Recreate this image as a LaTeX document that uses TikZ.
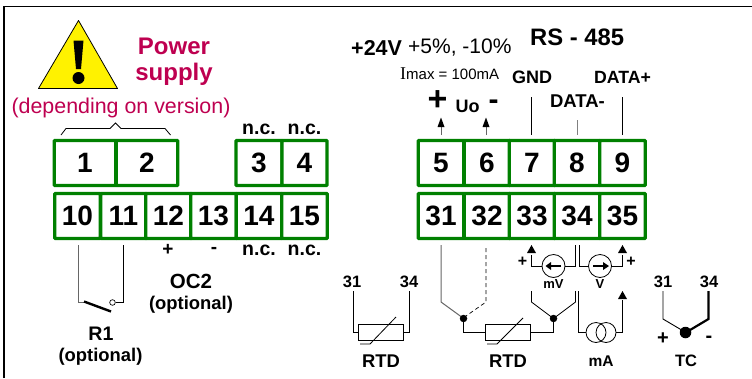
\documentclass[tikz,border=0pt]{standalone}
\usepackage{fontspec}
\setmainfont{Liberation Sans}
\newfontfamily\serifx{Liberation Serif}
\definecolor{grn}{RGB}{0,128,0}
\definecolor{crim}{RGB}{190,0,80}
\begin{document}
\begin{tikzpicture}[x=1pt,y=-1pt,
 cell/.style={draw=grn,line width=3.2pt,rounded corners=0.6pt,fill=white,minimum height=45pt,inner sep=0pt,font=\fontsize{28}{28}\selectfont\bfseries},
 lbl/.style={inner sep=0pt,font=\fontsize{#1}{#1}\selectfont\bfseries},
 lbl/.default=16,
 reg/.style={inner sep=0pt,font=\fontsize{#1}{#1}\selectfont},
 wire/.style={draw=black,line width=0.8pt},
 gwire/.style={draw=black!60,line width=1pt},
 dotb/.style={circle,fill=black,inner sep=0pt,minimum size=#1}]
\useasboundingbox (0,0) rectangle (752,378);
\draw[line width=1.8pt] (4,378) -- (4,6.5) -- (752,6.5);
% warning
\draw[fill=yellow,line width=0.8pt,line join=round] (78.5,20.5) -- (117.5,88.5) -- (38.5,88.5) -- cycle;
\fill (73.5,40.5) -- (83.5,40.5) -- (81,69) -- (76,69) -- cycle;
\node[dotb=12pt] (wdot) at (78.5,78) {};
\node[lbl=24,text=crim] (ps1) at (174,46) {Power};
\node[lbl=24,text=crim] (ps2) at (174,74.5) {supply};
\node[reg=21.4,text=crim] (ps3) at (121,107.5) {(depending on version)};
% brace
\draw[line width=0.8pt] (61,135) -- (66,128.5) -- (110,128.5) -- (115.5,123) -- (121,128.5) -- (165,128.5) -- (170.5,135);
% top terminals
\foreach \n/\x/\w in {1/85/61.5,2/147/61.5}{\node[cell,minimum width=\w pt] (t\n) at (\x,163) {\n};}
\foreach \n/\x/\w in {3/259/46,4/304.5/45}{\node[cell,minimum width=\w pt] (t\n) at (\x,163) {\n};}
\foreach \n/\x in {5/441,6/487,7/532,8/577}{\node[cell,minimum width=45.5pt] (t\n) at (\x,163) {\n};}
\node[cell,minimum width=45.5pt] (t9) at (622.5,163) {9};
\node[lbl=19.5] (nc3) at (259,129) {n.c.};
\node[lbl=19.5] (nc4) at (304.5,129) {n.c.};
% bottom terminals
\foreach \n/\x in {10/77.5,11/123.5,12/168.5,13/213.5,14/259,15/304.5}{\node[cell,minimum width=45.5pt] (t\n) at (\x,216) {\n};}
\foreach \n/\x in {31/441,32/487,33/532,34/577,35/622.5}{\node[cell,minimum width=45.5pt] (t\n) at (\x,216) {\n};}
\node[lbl=19] (p12) at (168,250) {+};
\node[lbl=19] (m13) at (214,250) {-};
\node[lbl=19.5] (nc14) at (259,250) {n.c.};
\node[lbl=19.5] (nc15) at (304.5,250) {n.c.};
\node[lbl=20.5] (oc) at (191,281) {OC2};
\node[lbl=18.4] (ocopt) at (191,305) {(optional)};
\node[lbl=19.6] (r1) at (101,334) {R1};
\node[lbl=18.4] (r1opt) at (100.5,357) {(optional)};
% R1
\draw[gwire] (78,245) -- (78,302) -- (85,302);
\draw[line width=2.4pt] (84,301.5) -- (111,311.5);
\draw[wire] (123.5,245) -- (123.5,302.5) -- (115.5,302.5);
\draw[line width=0.7pt,fill=white] (112.5,302.5) circle (2.8pt);
% right top text
\node[lbl=21.5,anchor=west] (v24) at (351,48) {+24V};
\node[reg=21,anchor=west] (pct) at (408,48) {+5\%, -10\%};
\node[lbl=23.8,anchor=west] (rs) at (530,37) {RS - 485};
\node[anchor=west,inner sep=0pt,font=\fontsize{15}{15}\selectfont] (imax) at (400,74) {{\serifx\fontsize{18}{18}\selectfont I}max = 100mA};
\node[lbl=18] (gnd) at (532,77) {GND};
\node[lbl=18.5] (dm) at (577.5,101) {DATA-};
\node[lbl=17.7] (dp) at (622.5,77) {DATA+};
\node[lbl=34] (plus) at (437.5,101) {+};
\node[lbl=18] (uo) at (467.5,106) {Uo};
\node[lbl=30] (minus) at (493.5,105) {-};
% arrows
\draw[gwire] (441,135) -- (441,124);
\fill (441,117.5) -- (444.5,127) -- (437.5,127) -- cycle;
\draw[gwire] (486,135) -- (486,124);
\fill (486,117.5) -- (489.5,127) -- (482.5,127) -- cycle;
\draw[wire] (531.5,97) -- (531.5,135);
\draw[line width=1pt,draw=black!50] (577,120) -- (577,135);
\draw[wire] (622.5,97) -- (622.5,135);
% RTD 1
\node[lbl=16.5] (a31) at (352,282) {31};
\node[lbl=16.5] (a34) at (409,282) {34};
\draw[wire] (353,291) -- (353,332) -- (358,332);
\draw[wire] (409,291) -- (409,332) -- (404,332);
\draw[wire,fill=white] (358.5,324) rectangle (403.5,340);
\draw[wire] (360,344) -- (370,344) -- (396,317);
\node[lbl=18.4] (rtd1) at (381,361) {RTD};
% RTD 2
\draw[line width=1pt,draw=black!60] (441,245) -- (441,302) -- (463,318);
\draw[line width=0.7pt,dash pattern=on 4pt off 3pt] (486,248) -- (486,302) -- (466,316);
\node[dotb=7.5pt] (d1) at (463.5,318.5) {};
\draw[wire] (463.5,318.5) -- (463.5,332.5) -- (485.5,332.5);
\draw[wire,fill=white] (485.5,324.5) rectangle (530.5,340.5);
\draw[wire] (487,344) -- (497,344) -- (523,318);
\draw[wire] (530.5,332.5) -- (553.5,332.5) -- (553.5,318.5);
\node[dotb=7.5pt] (d2) at (553.5,318.5) {};
\draw[wire] (531.5,291) -- (531.5,302) -- (553.5,318.5) -- (575.5,302) -- (575.5,291);
\node[lbl=18.4] (rtd2) at (508,361) {RTD};
% mV
\draw[wire] (531.5,255) -- (531.5,266) -- (542,266);
\fill (531.5,245) -- (536,253) -- (527,253) -- cycle;
\draw[wire,fill=white] (553.5,266) circle (11.5pt);
\draw[line width=1.3pt] (561,266) -- (549,266);
\fill (545.5,266) -- (551,262) -- (551,270) -- cycle;
\draw[wire] (565,266) -- (575.5,266) -- (575.5,245);
\node[lbl=16] (pmv) at (522.5,262) {+};
\node[lbl=13] (mv) at (553.5,284) {mV};
% V
\draw[wire] (579,245) -- (579,266) -- (589,266);
\draw[wire,fill=white] (600,266) circle (11.5pt);
\draw[line width=1.3pt] (593,266) -- (604,266);
\fill (609,266) -- (603,262) -- (603,270) -- cycle;
\draw[wire] (612,266) -- (622.5,266) -- (622.5,255);
\fill (622.5,245) -- (627,253) -- (618,253) -- cycle;
\node[lbl=16] (pv) at (631,262) {+};
\node[lbl=13] (vv) at (600,284) {V};
% mA
\draw[wire] (578.5,291) -- (578.5,332.5) -- (586,332.5);
\draw[wire] (596,332.5) circle (10pt);
\draw[wire] (606,332.5) circle (10pt);
\draw[wire] (616,332.5) -- (622.5,332.5) -- (622.5,300);
\fill (622.5,291) -- (627,299) -- (618,299) -- cycle;
\node[lbl=15.5] (ma) at (601,361) {mA};
% TC
\node[lbl=16.5] (b31) at (663,282) {31};
\node[lbl=16.5] (b34) at (709,282) {34};
\draw[line width=0.9pt] (663,291) -- (663,319) -- (685,332);
\draw[line width=2.2pt] (708.5,291) -- (708.5,319) -- (685,333);
\node[dotb=11.5pt] (d3) at (685.5,332.5) {};
\node[lbl=20] (tcp) at (663,339) {+};
\node[lbl=20] (tcm) at (709,339) {-};
\node[lbl=16.5] (tc) at (686,361) {TC};
\end{tikzpicture}
\end{document}
